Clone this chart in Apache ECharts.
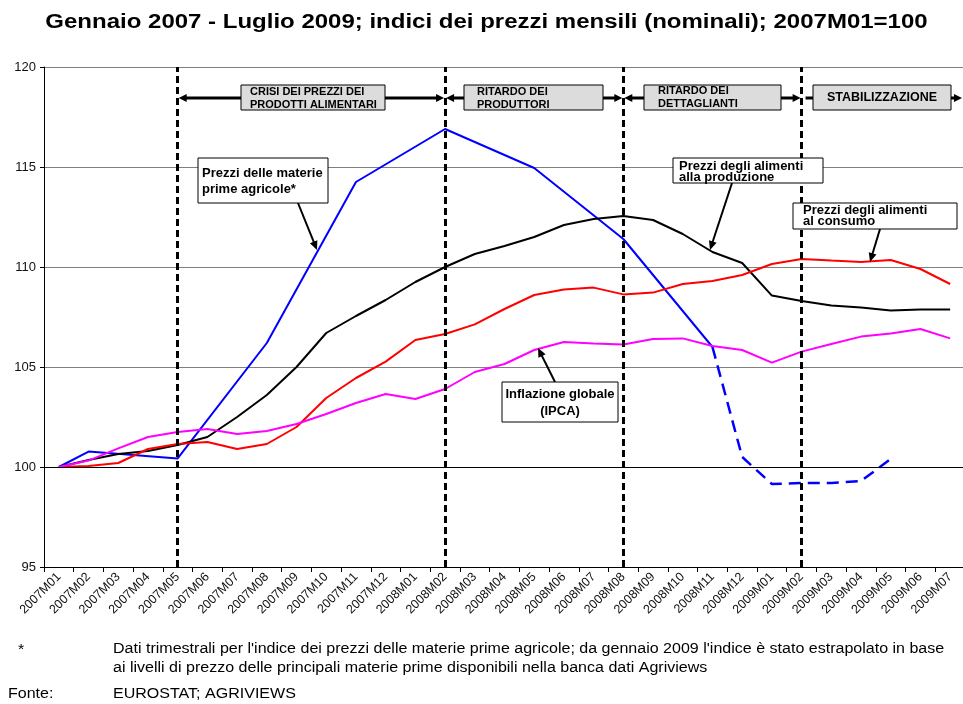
<!DOCTYPE html>
<html>
<head>
<meta charset="utf-8">
<script src="https://cdn.jsdelivr.net/npm/echarts@6/dist/echarts.min.js"></script>
<style>
html, body { margin: 0; padding: 0; background: #fff; }
#chart { width: 963px; height: 704px; }
</style>
</head>
<body>
<div id="chart"></div>
<script>
// categorie mensili
const months = [
  '2007M01', '2007M02', '2007M03', '2007M04', '2007M05', '2007M06', '2007M07', '2007M08',
  '2007M09', '2007M10', '2007M11', '2007M12', '2008M01', '2008M02', '2008M03', '2008M04',
  '2008M05', '2008M06', '2008M07', '2008M08', '2008M09', '2008M10', '2008M11', '2008M12',
  '2009M01', '2009M02', '2009M03', '2009M04', '2009M05', '2009M06', '2009M07'
];

// materie prime agricole: dati trimestrali (null = mese senza dato)
const agricole = [
  100, 100.77, null, null, 100.43, null, null, 106.2, null, null, 114.25, null, null, 116.9,
  null, null, 114.95, null, null, 111.4, null, null, 106.0, null, null, null, null, null, null,
  null, null
];
// materie prime agricole: stima Agriviews (tratteggio)
const agricoleStima = [
  null, null, null, null, null, null, null, null, null, null, null, null, null, null, null,
  null, null, null, null, null, null, null, 106.0, 100.5, 99.15, 99.2, 99.2, 99.3, 100.4,
  null, null
];
const produzione = [
  100, 100.35, 100.65, 100.8, 101.1, 101.5, 102.5, 103.6, 105.0, 106.7, 107.55, 108.35,
  109.25, 110.0, 110.65, 111.05, 111.5, 112.1, 112.4, 112.55, 112.35, 111.65, 110.75, 110.2,
  108.57, 108.3, 108.07, 107.97, 107.82, 107.88, 107.88
];
const consumo = [
  100, 100.05, 100.2, 100.9, 101.15, 101.25, 100.9, 101.15, 102.0, 103.45, 104.45, 105.27,
  106.35, 106.65, 107.13, 107.9, 108.6, 108.88, 108.97, 108.63, 108.72, 109.15, 109.3, 109.6,
  110.15, 110.4, 110.32, 110.25, 110.35, 109.9, 109.15
];
const ipca = [
  100, 100.32, 100.93, 101.5, 101.75, 101.9, 101.65, 101.8, 102.15, 102.65, 103.2, 103.65,
  103.4, 103.9, 104.75, 105.15, 105.85, 106.25, 106.18, 106.13, 106.4, 106.43, 106.05, 105.85,
  105.22, 105.77, 106.15, 106.52, 106.68, 106.9, 106.43
];

// inizio delle fasi (linee verticali tratteggiate)
const phaseStarts = ['2007M05', '2008M02', '2008M08', '2009M02'];
const phaseLabels = [
  'CRISI DEI PREZZI DEI\nPRODOTTI ALIMENTARI',
  'RITARDO DEI\nPRODUTTORI',
  'RITARDO DEI\nDETTAGLIANTI',
  'STABILIZZAZIONE'
];

const FONT = '"Liberation Sans", Arial, Helvetica, sans-serif';

const chart = echarts.init(document.getElementById('chart'));

const lineSeries = (name, data, color, extra) => Object.assign({
  name: name,
  type: 'line',
  data: data,
  symbol: 'none',
  smooth: false,
  silent: true,
  animation: false,
  lineStyle: { color: color, width: 2 },
  z: 3
}, extra || {});

const option = {
  backgroundColor: '#fff',
  animation: false,
  grid: { left: 44, right: -2, top: 67, bottom: 137, outerBoundsMode: 'none', containLabel: false },
  xAxis: {
    type: 'category',
    data: months,
    boundaryGap: true,
    axisLine: { lineStyle: { color: '#000', width: 1 } },
    axisTick: { show: true, length: 5, lineStyle: { color: '#000' } },
    axisLabel: {
      interval: 0,
      rotate: 45,
      margin: 8,
      fontSize: 12.5,
      fontFamily: FONT,
      color: '#111'
    },
    splitLine: { show: false }
  },
  yAxis: {
    type: 'value',
    min: 95,
    max: 120,
    interval: 5,
    axisLine: { show: true, lineStyle: { color: '#000', width: 1 } },
    axisTick: { show: true, length: 4, lineStyle: { color: '#000' } },
    axisLabel: { fontSize: 13, fontFamily: FONT, color: '#111', margin: 8 },
    splitLine: { show: true, lineStyle: { color: '#808080', width: 1 } }
  },
  series: [
    lineSeries('Prezzi delle materie prime agricole', agricole, '#0000ff', { connectNulls: true }),
    lineSeries('Stima', agricoleStima, '#0000ff', {
      lineStyle: { color: '#0000ff', width: 2.5, type: [12, 7] }
    }),
    lineSeries('Prezzi degli alimenti alla produzione', produzione, '#000000'),
    lineSeries('Prezzi degli alimenti al consumo', consumo, '#ff0000'),
    lineSeries('Inflazione globale (IPCA)', ipca, '#ff00ff', {
      markLine: {
        silent: true,
        symbol: 'none',
        label: { show: false },
        z: 5,
        data: [{ yAxis: 100, lineStyle: { color: '#000', width: 1, type: 'solid' } }]
          .concat(phaseStarts.map(m => ({
            xAxis: m,
            lineStyle: { color: '#000', width: 3, type: [7, 4] }
          })))
      }
    })
  ]
};

chart.setOption(option);

// ---- annotazioni ----
const px = m => chart.convertToPixel({ xAxisIndex: 0 }, m);
const py = v => chart.convertToPixel({ yAxisIndex: 0 }, v);

function head(x1, y1, x2, y2, len, half) {
  const a = Math.atan2(y2 - y1, x2 - x1);
  const bx = x2 - len * Math.cos(a), by = y2 - len * Math.sin(a);
  const nx = -Math.sin(a) * half, ny = Math.cos(a) * half;
  return {
    type: 'polygon', silent: true, z: 20,
    shape: { points: [[x2, y2], [bx + nx, by + ny], [bx - nx, by - ny]] },
    style: { fill: '#000' }
  };
}
function seg(x1, y1, x2, y2, w) {
  return {
    type: 'line', silent: true, z: 20,
    shape: { x1: x1, y1: y1, x2: x2, y2: y2 },
    style: { stroke: '#000', lineWidth: w }
  };
}
function arrow(x1, y1, x2, y2) {
  const a = Math.atan2(y2 - y1, x2 - x1);
  return [seg(x1, y1, x2 - 6 * Math.cos(a), y2 - 6 * Math.sin(a), 2), head(x1, y1, x2, y2, 9, 4)];
}
function box(x, y, w, h, fill) {
  return {
    type: 'rect', silent: true, z: 21,
    shape: { x: x, y: y, width: w, height: h },
    style: { fill: fill, stroke: '#000', lineWidth: 1 }
  };
}
function text(str, x, y, size, align, lh) {
  return {
    type: 'text', silent: true, z: 22,
    x: x, y: y,
    style: {
      text: str, fill: '#000', font: 'bold ' + size + 'px ' + FONT,
      align: align || 'left', verticalAlign: 'middle', lineHeight: lh || size + 2
    }
  };
}

const gx = phaseStarts.map(px);
const ay = py(118.45);
const endX = 962;
const g = [];

// frecce delle fasi
[[gx[0], gx[1]], [gx[1], gx[2]], [gx[2], gx[3]]].forEach(p => {
  g.push(seg(p[0] + 6, ay, p[1] - 6, ay, 3));
  g.push(head(p[1], ay, p[0] + 1, ay, 8, 4));
  g.push(head(p[0], ay, p[1] - 1, ay, 8, 4));
});
g.push(seg(gx[3] + 4, ay, endX - 6, ay, 3));
g.push(head(gx[3], ay, endX, ay, 8, 4));

// riquadri grigi delle fasi
g.push(box(241, 85, 144, 25, '#dcdcdc'));
g.push(text(phaseLabels[0], 250, 98, 11, 'left', 13));
g.push(box(464, 85, 139, 25, '#dcdcdc'));
g.push(text(phaseLabels[1], 477, 98, 11, 'left', 13));
g.push(box(644, 85, 137, 25, '#dcdcdc'));
g.push(text(phaseLabels[2], 658, 97, 11, 'left', 13));
g.push(box(813, 85, 138, 25, '#dcdcdc'));
g.push(text(phaseLabels[3], 882, 98, 12.5, 'center'));

// etichette delle serie
g.push(box(198, 158, 130, 45, '#fff'));
g.push(text('Prezzi delle materie\nprime agricole*', 202, 181, 13, 'left', 16));
g.push(...arrow(298, 203, 317, 250));

g.push(box(673, 158, 150, 25, '#fff'));
g.push(text('Prezzi degli alimenti\nalla produzione', 679, 172, 13, 'left', 11));
g.push(...arrow(732, 183, 710, 250));

g.push(box(793, 203, 164, 26, '#fff'));
g.push(text('Prezzi degli alimenti\nal consumo', 803, 216, 13, 'left', 11));
g.push(...arrow(880, 229, 870, 262));

g.push(box(502, 382, 116, 40, '#fff'));
g.push(text('Inflazione globale\n(IPCA)', 560, 403, 13, 'center', 16.5));
g.push(...arrow(555, 382, 538, 348));

// titolo e note (testo leggermente allargato come nell'originale)
g.push({
  type: 'text', silent: true, x: 486.5, y: 22, scaleX: 1.2,
  style: {
    text: 'Gennaio 2007 - Luglio 2009; indici dei prezzi mensili (nominali); 2007M01=100',
    font: 'bold 20px ' + FONT, fill: '#000', align: 'center', verticalAlign: 'middle'
  }
});
const note = (str, x, y) => ({
  type: 'text', silent: true, x: x, y: y, scaleX: 1.145,
  style: { text: str, font: '14px ' + FONT, fill: '#000', align: 'left', verticalAlign: 'middle' }
});
g.push(note('*', 18, 650));
g.push(note('Dati trimestrali per l\'indice dei prezzi delle materie prime agricole; da gennaio 2009 l\'indice è stato estrapolato in base', 113, 649));
g.push(note('ai livelli di prezzo delle principali materie prime disponibili nella banca dati Agriviews', 113, 668));
g.push(note('Fonte:', 8, 694));
g.push(note('EUROSTAT; AGRIVIEWS', 113, 694));

chart.setOption({ graphic: { elements: g } });

window.addEventListener('resize', function () {
  chart.resize();
});
</script>
</body>
</html>
